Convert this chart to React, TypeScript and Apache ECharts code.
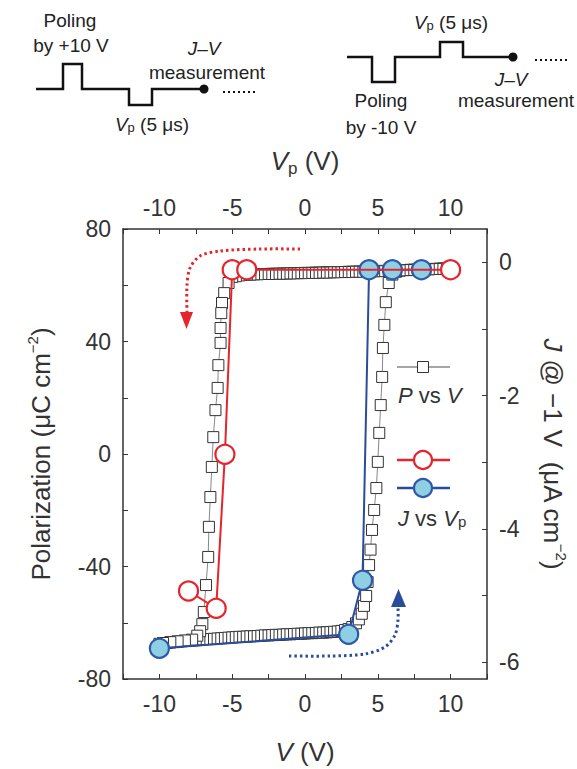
import React, { useEffect, useRef } from "react";
import * as echarts from "echarts";

// ---------- data ----------
// P vs V hysteresis loop, drawn in sweep order
const pvBottomV = [-10, -9.75, -9.5, -9.25, -9, -8.75, -8.5, -8.25, -8, -7.75, -7.5, -7.25, -7, -6.75, -6.5, -6.25, -6, -5.75, -5.5, -5.25, -5, -4.75, -4.5, -4.25, -4, -3.75, -3.5, -3.25, -3, -2.75, -2.5, -2.25, -2, -1.75, -1.5, -1.25, -1, -0.75, -0.5, -0.25, 0, 0.25, 0.5, 0.75, 1, 1.25, 1.5, 1.75, 2, 2.25, 2.5, 2.75, 3];
const pvBottomP = [-67.5, -67.3, -67.2, -67.0, -66.9, -66.8, -66.6, -66.5, -66.4, -66.3, -66.2, -66.0, -65.9, -65.8, -65.8, -65.7, -65.6, -65.5, -65.4, -65.3, -65.2, -65.1, -65.0, -65.0, -64.9, -64.8, -64.8, -64.7, -64.6, -64.5, -64.5, -64.4, -64.3, -64.3, -64.2, -64.1, -64.1, -64.0, -63.9, -63.9, -63.8, -63.7, -63.7, -63.6, -63.5, -63.5, -63.4, -63.3, -63.2, -63.1, -62.9, -62.6, -62.2];
const pvRiseV = [3.25, 3.5, 3.7, 3.9, 4.05, 4.2, 4.3, 4.4, 4.5, 4.6, 4.75, 4.9, 5.0, 5.1, 5.2, 5.3, 5.35, 5.45, 5.55, 5.75, 6.0, 6.25];
const pvRiseP = [-61.5, -60.2, -58.8, -56.8, -54.0, -50.5, -45.5, -39.5, -34.0, -27.0, -19.9, -12.1, -2.8, 7.5, 17.4, 27.4, 37.7, 45.9, 54.0, 60.8, 63.8, 64.8];
const pvTopOutV = [6.5, 7, 7.5, 8, 8.5, 9, 9.5, 10];
const pvTopOutP = [65.2, 65.4, 65.5, 65.6, 65.7, 65.8, 65.9, 66.0];
const pvTopBackV = [9.75, 9.5, 9.25, 9, 8.75, 8.5, 8.25, 8, 7.75, 7.5, 7.25, 7, 6.75, 6.5, 6.25, 6, 5.75, 5.5, 5.25, 5, 4.75, 4.5, 4.25, 4, 3.75, 3.5, 3.25, 3, 2.75, 2.5, 2.25, 2, 1.75, 1.5, 1.25, 1, 0.75, 0.5, 0.25, 0, -0.25, -0.5, -0.75, -1, -1.25, -1.5, -1.75, -2, -2.25, -2.5, -2.75, -3, -3.25, -3.5, -3.75, -4, -4.25, -4.5, -4.75];
const pvTopBackP = [66.0, 65.9, 65.9, 65.8, 65.8, 65.7, 65.7, 65.6, 65.6, 65.5, 65.5, 65.4, 65.4, 65.3, 65.3, 65.2, 65.2, 65.1, 65.1, 65.0, 65.0, 65.0, 64.9, 64.9, 64.9, 64.8, 64.8, 64.8, 64.7, 64.7, 64.7, 64.6, 64.6, 64.6, 64.5, 64.5, 64.5, 64.4, 64.4, 64.4, 64.3, 64.3, 64.3, 64.2, 64.2, 64.2, 64.1, 64.1, 64.1, 64.0, 64.0, 64.0, 63.9, 63.9, 63.8, 63.8, 63.7, 63.5, 63.2];
const pvFallV = [-5.0, -5.25, -5.55, -5.7, -5.75, -5.8, -5.8, -5.95, -6.0, -6.15, -6.3, -6.4, -6.5, -6.6, -6.65, -6.8, -6.95, -7.05, -7.2, -7.4];
const pvFallP = [63.0, 60.8, 57.2, 53.7, 50.1, 44.8, 39.5, 31.6, 23.5, 15.6, 6.0, -4.6, -15.3, -25.9, -36.6, -46.6, -56.2, -60.5, -63.0, -64.6];
const pvReturnV = [-7.75, -8.25, -8.75, -9.25, -9.75];
const pvReturnP = [-66.0, -66.3, -66.6, -66.9, -67.2];

// J @ -1 V vs Vp
const redVp = [-8, -6.1, -5.5, -5, -4, 10];
const redJ = [-4.93, -5.19, -2.88, -0.11, -0.11, -0.11];
const blueVp = [-10, 3, 3.95, 4.4, 6, 8];
const blueJ = [-5.79, -5.58, -4.77, -0.11, -0.11, -0.11];

// axis ticks
const xTickLabels = [-10, -5, 0, 5, 10];
const pTickLabels = [80, 40, 0, -40, -80];
const jTicks = [0, -1, -2, -3, -4, -5, -6];
const jTickLabels = [0, -2, -4, -6];

const FONT = '"Liberation Sans", Arial, Helvetica, sans-serif';
const RED = "#e5242b";
const BLUE_LINE = "#2b4c9b";
const BLUE_FILL = "#8ecfe4";
const BLUE_BORDER = "#2f59a6";
const TXT = "#333";

const zip = (a: number[], b: number[]) => a.map((v, i) => [v, b[i]]);

export default function App() {
  const ref = useRef<HTMLDivElement>(null);
  useEffect(() => {
    if (!ref.current) return;
    const chart = echarts.init(ref.current, undefined, { renderer: "svg" });

    const pvData = [
      ...zip(pvBottomV, pvBottomP),
      ...zip(pvRiseV, pvRiseP),
      ...zip(pvTopOutV, pvTopOutP),
      ...zip(pvTopBackV, pvTopBackP),
      ...zip(pvFallV, pvFallP),
      ...zip(pvReturnV, pvReturnP),
    ];

    const xLabelFmt = (v: number) =>
      xTickLabels.some((t) => Math.abs(t - v) < 1e-6) ? String(v) : "";
    const pLabelFmt = (v: number) =>
      pTickLabels.some((t) => Math.abs(t - v) < 1e-6) ? String(v) : "";

    const axisLine = { show: true, onZero: false, lineStyle: { color: "#333", width: 1.5 } };
    const axisTick = { show: true, inside: true, length: 5, lineStyle: { color: "#333", width: 1 } };
    const nameStyle = (extra: any = {}) => ({
      fontSize: 26,
      color: TXT,
      fontFamily: FONT,
      lineHeight: 32,
      rich: {
        i: { fontStyle: "italic", fontSize: 26, lineHeight: 32, color: TXT, fontFamily: FONT },
        s: { fontSize: 17, lineHeight: 14, verticalAlign: "bottom", color: TXT, fontFamily: FONT },
        sup: { fontSize: 15, lineHeight: 14, verticalAlign: "top", color: TXT, fontFamily: FONT },
      },
      ...extra,
    });

    const schemText = (x: number, y: number, text: string, italic = false) => ({
      type: "text",
      x,
      y,
      style: {
        text,
        fill: "#222",
        fontSize: 19,
        fontFamily: FONT,
        fontStyle: italic ? "italic" : "normal",
        align: "center",
        verticalAlign: "middle",
        rich: {
          i: { fontStyle: "italic", fontSize: 19, fontFamily: FONT, fill: "#222" },
          s: { fontSize: 13, fontFamily: FONT, fill: "#222", verticalAlign: "bottom", lineHeight: 10 },
        },
      },
    });

    const option: any = {
      animation: false,
      backgroundColor: "#fff",
      textStyle: { fontFamily: FONT },
      grid: { left: 123, right: 90, top: 229, bottom: 90, containLabel: false, outerBoundsMode: "none" },
      xAxis: [
        {
          type: "value",
          position: "bottom",
          min: -12.5,
          max: 12.5,
          interval: 2.5,
          name: "{i|V} (V)",
          nameLocation: "middle",
          nameGap: 57,
          nameTextStyle: nameStyle(),
          axisLine,
          axisTick,
          axisLabel: { fontSize: 23, color: TXT, margin: 13, formatter: xLabelFmt, fontFamily: FONT },
          splitLine: { show: false },
        },
        {
          type: "value",
          position: "top",
          min: -12.5,
          max: 12.5,
          interval: 2.5,
          name: "{i|V}{s|p} (V)",
          nameLocation: "middle",
          nameGap: 52,
          nameTextStyle: nameStyle(),
          axisLine,
          axisTick,
          axisLabel: { fontSize: 23, color: TXT, margin: 10, formatter: xLabelFmt, fontFamily: FONT },
          splitLine: { show: false },
        },
      ],
      yAxis: [
        {
          type: "value",
          position: "left",
          min: -80,
          max: 80,
          interval: 20,
          name: "Polarization (μC cm{sup|−2})",
          nameLocation: "middle",
          nameGap: 66,
          nameTextStyle: nameStyle(),
          axisLine,
          axisTick,
          axisLabel: { fontSize: 23, color: TXT, margin: 12, formatter: pLabelFmt, fontFamily: FONT },
          splitLine: { show: false },
        },
        {
          type: "value",
          position: "right",
          min: -6.25,
          max: 0.5,
          name: "{i|J} @ −1 V  (μA cm{sup|−2})",
          nameLocation: "middle",
          nameRotate: -90,
          nameGap: 50,
          nameTextStyle: nameStyle(),
          axisLine,
          axisTick: { ...axisTick, customValues: jTicks },
          axisLabel: { fontSize: 23, color: TXT, margin: 12, customValues: jTickLabels, fontFamily: FONT },
          splitLine: { show: false },
        },
      ],
      series: [
        {
          name: "P vs V",
          type: "line",
          xAxisIndex: 0,
          yAxisIndex: 0,
          data: pvData,
          symbol: "rect",
          symbolSize: 11,
          showAllSymbol: true,
          itemStyle: { color: "#fff", borderColor: "#333", borderWidth: 1 },
          lineStyle: { color: "#888", width: 1 },
          z: 2,
        },
        {
          name: "J vs Vp (-10 V poling)",
          type: "line",
          xAxisIndex: 1,
          yAxisIndex: 1,
          data: zip(blueVp, blueJ),
          symbol: "circle",
          symbolSize: 19,
          itemStyle: { color: BLUE_FILL, borderColor: BLUE_BORDER, borderWidth: 2.2 },
          lineStyle: { color: BLUE_LINE, width: 2 },
          z: 3,
        },
        {
          name: "J vs Vp (+10 V poling)",
          type: "line",
          xAxisIndex: 1,
          yAxisIndex: 1,
          data: zip(redVp, redJ),
          symbol: "circle",
          symbolSize: 19,
          itemStyle: { color: "#fff", borderColor: RED, borderWidth: 2.2 },
          lineStyle: { color: RED, width: 2 },
          z: 4,
        },
      ],
      graphic: [
        // ---- left pulse schematic ----
        {
          type: "polyline",
          shape: { points: [[36, 89], [63, 89], [63, 64], [82, 64], [82, 89], [129, 89], [129, 105], [152, 105], [152, 89], [204, 89]] },
          style: { stroke: "#111", lineWidth: 2.5, fill: null },
        },
        { type: "circle", shape: { cx: 204, cy: 89, r: 4.5 }, style: { fill: "#111" } },
        { type: "line", shape: { x1: 223, y1: 92, x2: 256, y2: 92 }, style: { stroke: "#111", lineWidth: 2, lineDash: [2, 3] } },
        schemText(70, 20, "Poling"),
        schemText(71, 45, "by +10 V"),
        schemText(204, 48, "J–V", true),
        schemText(207, 72, "measurement"),
        schemText(152, 124, "{i|V}{s|p} (5 μs)"),
        // ---- right pulse schematic ----
        {
          type: "polyline",
          shape: { points: [[347, 57], [372, 57], [372, 82], [395, 82], [395, 57], [440, 57], [440, 42], [463, 42], [463, 57], [513, 57]] },
          style: { stroke: "#111", lineWidth: 2.5, fill: null },
        },
        { type: "circle", shape: { cx: 513, cy: 57, r: 4.5 }, style: { fill: "#111" } },
        { type: "line", shape: { x1: 535, y1: 60, x2: 567, y2: 60 }, style: { stroke: "#111", lineWidth: 2, lineDash: [2, 3] } },
        schemText(451, 22, "{i|V}{s|p} (5 μs)"),
        schemText(511, 79, "J–V", true),
        schemText(516, 100, "measurement"),
        schemText(381, 100, "Poling"),
        schemText(381, 127, "by -10 V"),
        // ---- switching-direction arrows ----
        {
          type: "polyline",
          shape: { points: [[300, 249], [260, 249], [220, 251], [200, 256], [190, 268], [187, 285], [187, 312]], smooth: 0.3 },
          style: { stroke: RED, lineWidth: 3, lineDash: [2.5, 3], fill: null },
        },
        { type: "polygon", shape: { points: [[180, 312], [193, 312], [186.5, 329]] }, style: { fill: RED } },
        {
          type: "polyline",
          shape: { points: [[289, 656], [330, 656], [365, 654], [385, 647], [395, 635], [398, 620], [398, 607]], smooth: 0.3 },
          style: { stroke: BLUE_LINE, lineWidth: 3, lineDash: [2.5, 3], fill: null },
        },
        { type: "polygon", shape: { points: [[391, 607], [406, 607], [398.5, 589]] }, style: { fill: BLUE_LINE } },
        // ---- legend ----
        { type: "line", shape: { x1: 397, y1: 367, x2: 450, y2: 367 }, style: { stroke: "#888", lineWidth: 1.5 } },
        { type: "rect", shape: { x: 417.5, y: 361.5, width: 11, height: 11 }, style: { fill: "#fff", stroke: "#333", lineWidth: 1 } },
        {
          type: "text",
          x: 398,
          y: 395,
          style: {
            text: "{i|P} vs {i|V}",
            fontSize: 22,
            fontFamily: FONT,
            fill: TXT,
            verticalAlign: "middle",
            rich: { i: { fontStyle: "italic", fontSize: 22, fontFamily: FONT, fill: TXT } },
          },
        },
        { type: "line", shape: { x1: 397, y1: 460, x2: 450, y2: 460 }, style: { stroke: RED, lineWidth: 2.5 } },
        { type: "circle", shape: { cx: 423, cy: 460, r: 9 }, style: { fill: "#fff", stroke: RED, lineWidth: 2.2 } },
        { type: "line", shape: { x1: 397, y1: 488, x2: 450, y2: 488 }, style: { stroke: BLUE_LINE, lineWidth: 2.5 } },
        { type: "circle", shape: { cx: 423, cy: 488, r: 9 }, style: { fill: BLUE_FILL, stroke: BLUE_BORDER, lineWidth: 2.2 } },
        {
          type: "text",
          x: 398,
          y: 518,
          style: {
            text: "{i|J} vs {i|V}{s|p}",
            fontSize: 22,
            fontFamily: FONT,
            fill: TXT,
            verticalAlign: "middle",
            rich: {
              i: { fontStyle: "italic", fontSize: 22, fontFamily: FONT, fill: TXT },
              s: { fontSize: 15, fontFamily: FONT, fill: TXT, verticalAlign: "bottom", lineHeight: 10 },
            },
          },
        },
      ],
    };

    chart.setOption(option);
    return () => chart.dispose();
  }, []);

  return (
    <div
      ref={ref}
      style={{ position: "absolute", left: 0, top: 0, width: 577, height: 769, background: "#fff" }}
    />
  );
}
